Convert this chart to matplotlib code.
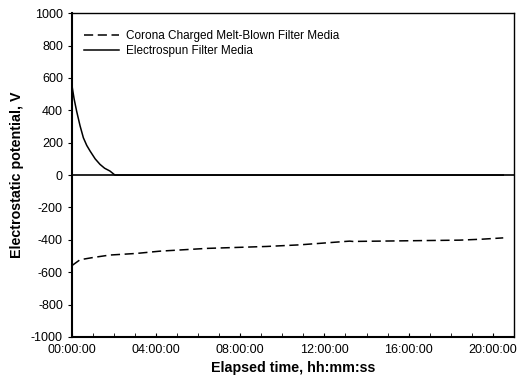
import numpy as np
import matplotlib
matplotlib.use("Agg")
import matplotlib.pyplot as plt
from matplotlib.ticker import MultipleLocator, FuncFormatter

plt.rcParams['font.family'] = ['Liberation Sans', 'DejaVu Sans']
plt.rcParams['axes.unicode_minus'] = False

# elapsed time in hours, potential in V
t_melt = [0.0, 0.03, 0.38, 1.01, 1.8, 3.07, 4.18, 6.4, 9.25, 10.83, 13.2, 13.35, 18.43, 19.5, 20.5]
v_melt = [-560, -556, -523, -509, -494, -484, -470, -453, -441, -431, -408, -410, -402, -396, -388]

t_spun = [0.0, 0.1, 0.22, 0.38, 0.54, 0.7, 0.86, 1.1, 1.33, 1.55, 1.8, 2.04, 20.5]
v_spun = [550, 470, 394, 305, 230, 183, 148, 100, 66, 42, 25, 0, 0]

fig = plt.figure(figsize=(5.2, 3.86), dpi=100)
ax = fig.add_axes([0.1385, 0.127, 0.8495, 0.839])

ax.axhline(0, color='black', lw=1.2)
ax.plot(t_melt, v_melt, color='black', ls=(0, (6, 3)), lw=1.1,
        label='Corona Charged Melt-Blown Filter Media')
ax.plot(t_spun, v_spun, color='black', lw=1.1, label='Electrospun Filter Media')

ax.set_xlim(0, 21)
ax.set_ylim(-1000, 1000)
ax.xaxis.set_major_locator(MultipleLocator(4))
ax.xaxis.set_minor_locator(MultipleLocator(1))
ax.xaxis.set_major_formatter(FuncFormatter(lambda v, p: '%02d:00:00' % int(round(v))))
ax.yaxis.set_major_locator(MultipleLocator(200))
ax.tick_params(axis='x', which='both', direction='in', length=3, labelsize=9, pad=5)
ax.tick_params(axis='y', direction='out', length=3, labelsize=9)
for s in ax.spines.values():
    s.set_linewidth(1.0)
ax.spines['left'].set_linewidth(1.5)
ax.spines['bottom'].set_linewidth(1.5)

ax.set_xlabel('Elapsed time, hh:mm:ss', fontsize=10.3, fontweight='bold', labelpad=4)
ax.set_ylabel('Electrostatic potential, V', fontsize=10.3, fontweight='bold', labelpad=5)

ax.legend(loc='upper left', frameon=False, fontsize=8.5, handlelength=3.0,
          bbox_to_anchor=(0.0, 0.985), borderaxespad=0.6, labelspacing=0.25,
          handletextpad=0.6)

fig.savefig('out.png', dpi=100)
